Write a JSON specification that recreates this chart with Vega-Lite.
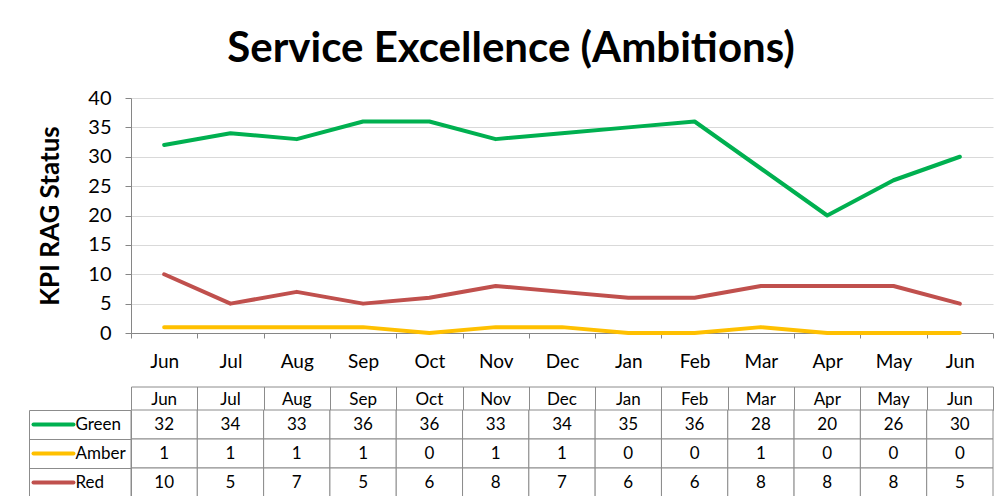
{
  "$schema": "https://vega.github.io/schema/vega-lite/v6.json",
  "padding": {"left": 28, "top": 28, "right": 5, "bottom": 0},
  "background": "white",
  "title": {"text": "Service Excellence (Ambitions)", "fontSize": 42, "font": "Lato", "fontWeight": "bold", "anchor": "middle", "offset": 17, "color": "black"},
  "config": {"view": {"stroke": null}, "font": "Lato"},
  "spacing": 15,
  "data": {"values": [
    {"m": "Jun1", "s": "Green", "v": 32}, {"m": "Jul", "s": "Green", "v": 34}, {"m": "Aug", "s": "Green", "v": 33},
    {"m": "Sep", "s": "Green", "v": 36}, {"m": "Oct", "s": "Green", "v": 36}, {"m": "Nov", "s": "Green", "v": 33},
    {"m": "Dec", "s": "Green", "v": 34}, {"m": "Jan", "s": "Green", "v": 35}, {"m": "Feb", "s": "Green", "v": 36},
    {"m": "Mar", "s": "Green", "v": 28}, {"m": "Apr", "s": "Green", "v": 20}, {"m": "May", "s": "Green", "v": 26},
    {"m": "Jun2", "s": "Green", "v": 30},
    {"m": "Jun1", "s": "Amber", "v": 1}, {"m": "Jul", "s": "Amber", "v": 1}, {"m": "Aug", "s": "Amber", "v": 1},
    {"m": "Sep", "s": "Amber", "v": 1}, {"m": "Oct", "s": "Amber", "v": 0}, {"m": "Nov", "s": "Amber", "v": 1},
    {"m": "Dec", "s": "Amber", "v": 1}, {"m": "Jan", "s": "Amber", "v": 0}, {"m": "Feb", "s": "Amber", "v": 0},
    {"m": "Mar", "s": "Amber", "v": 1}, {"m": "Apr", "s": "Amber", "v": 0}, {"m": "May", "s": "Amber", "v": 0},
    {"m": "Jun2", "s": "Amber", "v": 0},
    {"m": "Jun1", "s": "Red", "v": 10}, {"m": "Jul", "s": "Red", "v": 5}, {"m": "Aug", "s": "Red", "v": 7},
    {"m": "Sep", "s": "Red", "v": 5}, {"m": "Oct", "s": "Red", "v": 6}, {"m": "Nov", "s": "Red", "v": 8},
    {"m": "Dec", "s": "Red", "v": 7}, {"m": "Jan", "s": "Red", "v": 6}, {"m": "Feb", "s": "Red", "v": 6},
    {"m": "Mar", "s": "Red", "v": 8}, {"m": "Apr", "s": "Red", "v": 8}, {"m": "May", "s": "Red", "v": 8},
    {"m": "Jun2", "s": "Red", "v": 5}
  ]},
  "vconcat": [
    {
      "width": 862,
      "height": 235,
      "mark": {"type": "line", "strokeWidth": 4, "strokeCap": "round", "strokeJoin": "round"},
      "encoding": {
        "x": {"field": "m", "type": "nominal",
          "sort": ["Jun1","Jul","Aug","Sep","Oct","Nov","Dec","Jan","Feb","Mar","Apr","May","Jun2"],
          "scale": {"paddingInner": 0, "paddingOuter": 0},
          "axis": {"title": null, "labelExpr": "datum.label ? substring(datum.label,0,3) : ''", "labelAngle": 0, "tickBand": "extent", "tickSize": 5,
            "tickColor": "#868686", "domainColor": "#868686", "labelFontSize": 19, "labelPadding": 14, "labelColor": "black", "grid": false}},
        "y": {"field": "v", "type": "quantitative", "scale": {"domain": [0, 40]},
          "axis": {"title": "KPI RAG Status", "titleFontSize": 26, "titleFontWeight": "bold", "titleColor": "black", "titlePadding": 24,
            "values": [0,5,10,15,20,25,30,35,40], "tickSize": 6, "tickColor": "#868686", "domainColor": "#868686",
            "gridColor": "#D9D9D9", "labelFontSize": 20, "labelPadding": 14, "labelColor": "black"}},
        "color": {"field": "s", "type": "nominal", "scale": {"domain": ["Green","Amber","Red"], "range": ["#00B050","#FFC000","#C0504D"]}, "legend": null}
      }
    },
    {
      "width": 862,
      "height": 87,
      "resolve": {"axis": {"x": "independent", "y": "independent"}},
      "layer": [
        {
          "mark": {"type": "rect", "fill": "white", "stroke": "#8c8c8c", "strokeWidth": 1},
          "encoding": {
            "x": {"field": "m", "type": "nominal",
              "sort": ["Jun1","Jul","Aug","Sep","Oct","Nov","Dec","Jan","Feb","Mar","Apr","May","Jun2"],
              "scale": {"paddingInner": 0, "paddingOuter": 0},
              "axis": {"orient": "top", "title": null, "labelExpr": "datum.label ? substring(datum.label,0,3) : ''", "labelAngle": 0, "ticks": false, "domain": false,
                "labelPadding": 11, "labelBaseline": "middle", "labelFontSize": 17, "labelColor": "black", "grid": false}},
            "y": {"field": "s", "type": "nominal", "sort": ["Green","Amber","Red"], "scale": {"paddingInner": 0, "paddingOuter": 0},
              "axis": {"orient": "left", "title": null, "ticks": false, "domain": true, "domainColor": "#8c8c8c", "labelAlign": "left",
                "labelPadding": 56, "labelFontSize": 17, "labelColor": "black", "grid": false}}
          }
        },
        {
          "mark": {"type": "text", "fontSize": 17, "color": "black"},
          "encoding": {
            "x": {"field": "m", "type": "nominal",
              "sort": ["Jun1","Jul","Aug","Sep","Oct","Nov","Dec","Jan","Feb","Mar","Apr","May","Jun2"],
              "axis": {"orient": "top", "title": null, "labels": false, "ticks": true, "tickBand": "extent", "tickSize": 23.5,
                "tickColor": "#8c8c8c", "domain": true, "domainColor": "#8c8c8c", "grid": false}},
            "y": {"field": "s", "type": "nominal", "sort": ["Green","Amber","Red"],
              "axis": {"orient": "left", "title": null, "labels": false, "ticks": true, "tickBand": "extent", "tickSize": 102,
                "tickColor": "#8c8c8c", "domain": false, "grid": false}},
            "text": {"field": "v", "type": "quantitative"}
          }
        },
        {
          "mark": {"type": "point", "opacity": 0},
          "encoding": {
            "x": {"field": "m", "type": "nominal",
              "sort": ["Jun1","Jul","Aug","Sep","Oct","Nov","Dec","Jan","Feb","Mar","Apr","May","Jun2"],
              "axis": {"orient": "top", "title": null, "labels": false, "ticks": false, "domain": true, "domainColor": "#8c8c8c", "offset": 23.5, "grid": false}},
            "y": {"field": "s", "type": "nominal", "sort": ["Green","Amber","Red"],
              "axis": {"orient": "left", "title": null, "labels": false, "ticks": true, "tickSize": 40, "tickWidth": 4, "tickCap": "round",
                "tickColor": {"condition": [{"test": "datum.value === 'Green'", "value": "#00B050"}, {"test": "datum.value === 'Amber'", "value": "#FFC000"}], "value": "#C0504D"},
                "domain": false, "offset": 58, "grid": false}}
          }
        },
        {
          "mark": {"type": "point", "opacity": 0},
          "encoding": {
            "x": {"field": "m", "type": "nominal",
              "sort": ["Jun1","Jul","Aug","Sep","Oct","Nov","Dec","Jan","Feb","Mar","Apr","May","Jun2"], "axis": null},
            "y": {"field": "s", "type": "nominal", "sort": ["Green","Amber","Red"],
              "axis": {"orient": "left", "title": null, "labels": false, "ticks": false, "domain": true, "domainColor": "#8c8c8c", "offset": 102, "grid": false}}
          }
        }
      ]
    }
  ]
}
